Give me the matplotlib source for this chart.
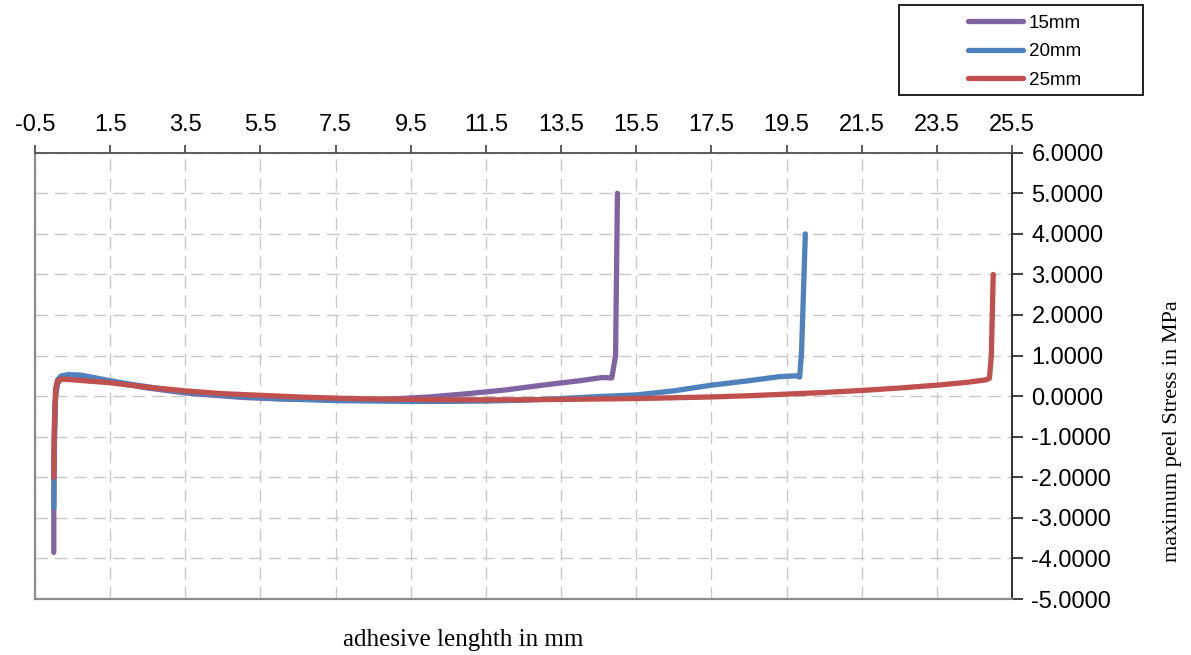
import matplotlib
matplotlib.use("Agg")
import matplotlib.pyplot as plt
from matplotlib.patches import Rectangle
from matplotlib.ticker import FormatStrFormatter
import numpy as np

plt.rcParams['font.family'] = ['Liberation Sans', 'DejaVu Sans']
plt.rcParams['axes.unicode_minus'] = False

# peel stress along the adhesive
x15 = [0, 0, 0.02, 0.05, 0.1, 0.2, 0.35, 0.6, 1.0, 1.5, 2.0, 2.5, 3.0, 3.5, 4.0,
       5.0, 6.0, 7.0, 8.0, 9.0, 10.0, 11.0, 12.0, 13.0, 14.0, 14.6, 14.8,
       14.85, 14.95, 15.0]
y15 = [-3.85, -2.8, -1.0, 0.0, 0.3, 0.45, 0.5, 0.5, 0.45, 0.36, 0.28, 0.2, 0.14,
       0.08, 0.04, -0.03, -0.07, -0.08, -0.09, -0.07, -0.02, 0.06, 0.15, 0.27,
       0.38, 0.46, 0.45, 0.45, 1.0, 5.0]

x20 = [0, 0, 0.02, 0.05, 0.1, 0.2, 0.4, 0.7, 1.0, 1.5, 2.0, 2.5, 3.0, 3.5, 4.5,
       5.5, 6.5, 7.5, 8.5, 9.5, 10.5, 11.5, 12.5, 13.5, 14.5, 15.5, 16.5, 17.5,
       18.5, 19.3, 19.75, 19.85, 19.9, 20.0]
y20 = [-2.75, -2.0, -0.8, 0.1, 0.4, 0.5, 0.53, 0.52, 0.47, 0.38, 0.3, 0.23, 0.16,
       0.1, 0.02, -0.04, -0.08, -0.11, -0.12, -0.13, -0.13, -0.12, -0.1, -0.06,
       -0.01, 0.03, 0.13, 0.27, 0.38, 0.48, 0.5, 0.47, 1.1, 4.0]

x25 = [0, 0, 0.02, 0.05, 0.1, 0.2, 0.4, 0.8, 1.5, 2.5, 3.5, 4.5, 5.5, 6.5, 7.5,
       8.5, 9.5, 10.5, 11.5, 12.5, 13.5, 14.5, 15.5, 16.5, 17.5, 18.5, 19.5,
       20.5, 21.5, 22.5, 23.5, 24.3, 24.8, 24.9, 24.95, 25.0]
y25 = [-2.0, -1.5, -0.5, 0.2, 0.38, 0.42, 0.41, 0.38, 0.33, 0.22, 0.13, 0.06, 0.02,
       -0.02, -0.05, -0.07, -0.08, -0.09, -0.09, -0.09, -0.08, -0.07, -0.06,
       -0.04, -0.02, 0.01, 0.05, 0.09, 0.14, 0.2, 0.27, 0.34, 0.4, 0.44, 1.0, 3.0]

series = [("15mm", x15, y15, "#8064A2"),
          ("20mm", x20, y20, "#4F81BD"),
          ("25mm", x25, y25, "#C0504D")]

W, H = 1191, 655
fig = plt.figure(figsize=(W / 100, H / 100), dpi=100)
ax = fig.add_axes([35 / W, 1 - 599 / H, (1012 - 35) / W, (599 - 152.7) / H])

for name, xs, ys, col in series:
    ax.plot(xs, ys, color=col, lw=3.8, label=name, solid_capstyle='round',
            solid_joinstyle='round')

ax.set_xlim(-0.5, 25.5)
ax.set_ylim(-5, 6)
ax.set_xticks(np.arange(-0.5, 25.6, 2))
ax.set_yticks(np.arange(-5, 6.1, 1))
ax.xaxis.set_major_formatter(FormatStrFormatter('%.1f'))
ax.yaxis.set_major_formatter(FormatStrFormatter('%.4f'))
ax.xaxis.tick_top()
ax.yaxis.tick_right()
ax.tick_params(axis='x', length=6, width=1.2, color='#404040', labelsize=17, pad=6)
ax.tick_params(axis='y', length=8, width=1.2, color='#202020', labelsize=17, pad=6)

ax.grid(True, color='#C8C8C8', lw=1.0, dashes=(9, 5))
for side in ['left', 'bottom']:
    ax.spines[side].set_color('#8C8C8C')
    ax.spines[side].set_linewidth(1.6)
ax.spines['top'].set_color('#505050')
ax.spines['right'].set_color('#202020')
ax.spines['top'].set_linewidth(1.3)
ax.spines['right'].set_linewidth(1.3)

fig.text(463 / W, 1 - 640 / H, "adhesive lenghth in mm", ha='center', va='center',
         fontsize=18, family=['Liberation Serif', 'DejaVu Serif'])
fig.text(1172 / W, 1 - 431 / H, "maximum peel Stress in MPa", ha='center',
         va='center', rotation=90, fontsize=16,
         family=['Liberation Serif', 'DejaVu Serif'])

fig.add_artist(Rectangle((899 / W, 1 - 95 / H), 244 / W, 90 / H,
                         transform=fig.transFigure, fill=False, ec='#202020', lw=1.4))
fig.legend(loc='upper left', bbox_to_anchor=(959 / W, 1 - 5 / H), frameon=False,
           fontsize=13.5, handlelength=2.9, handletextpad=0.33, labelspacing=0.62,
           borderpad=0.0)

fig.savefig("out.png", dpi=100)
